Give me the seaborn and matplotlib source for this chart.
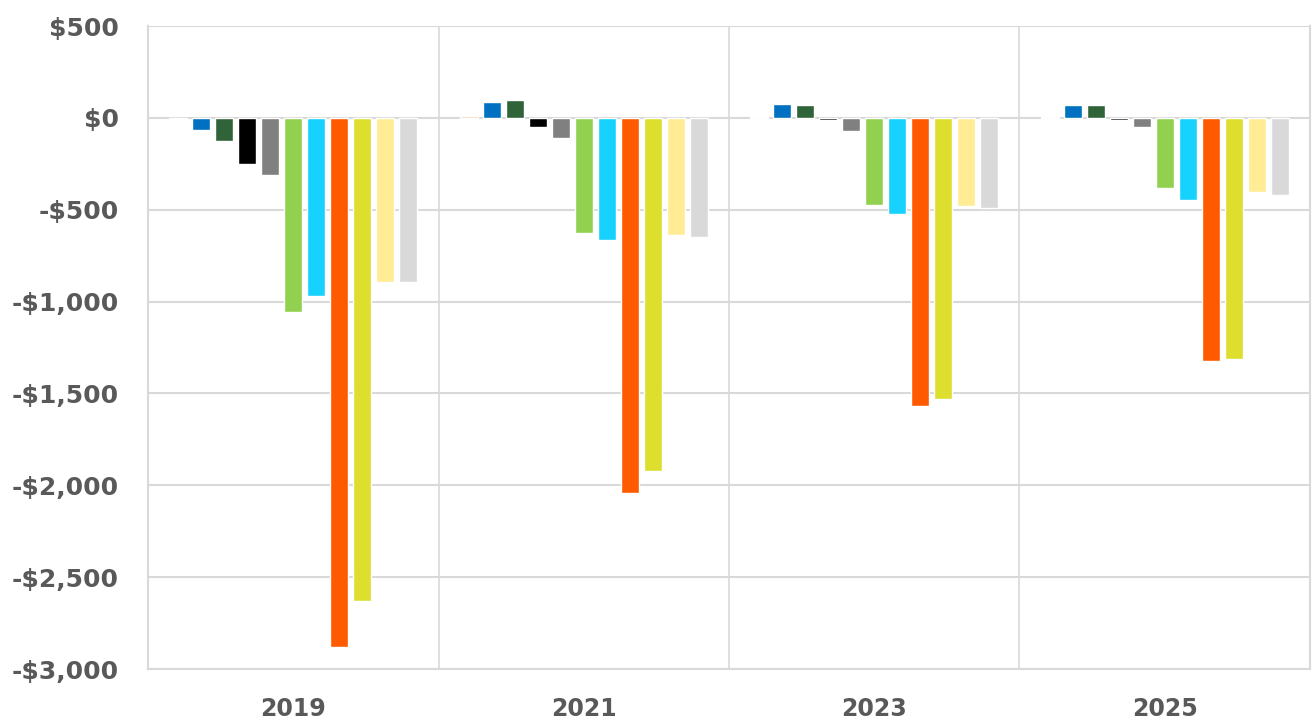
import matplotlib.pyplot as plt
import matplotlib.ticker as mticker
import pandas as pd
import numpy as np
import seaborn as sns

years = ['2019', '2021', '2023', '2025']
series = ['S1', 'S2', 'S3', 'S4', 'S5', 'S6', 'S7', 'S8', 'S9', 'S10', 'S11']
colors = ['#F8CBAD', '#0070C0', '#31633A', '#000000', '#808080', '#92D050',
          '#17D1FF', '#FF5A00', '#DEDE2F', '#FFEC94', '#D9D9D9']

# values per year, one entry per series
v2019 = [-8, -67, -127, -250, -309, -1058, -967, -2880, -2628, -891, -891]
v2021 = [8, 85, 95, -51, -109, -628, -667, -2043, -1920, -639, -650]
v2023 = [6, 75, 68, -10, -70, -473, -523, -1568, -1530, -481, -490]
v2025 = [6, 68, 68, -10, -50, -381, -446, -1323, -1312, -403, -419]

rows = []
for yr, vals in zip(years, [v2019, v2021, v2023, v2025]):
    for s, v in zip(series, vals):
        rows.append({'year': yr, 'series': s, 'value': v})
df = pd.DataFrame(rows)

sns.set_style('white')
plt.rcParams['font.family'] = ['DejaVu Sans']

fig = plt.figure(figsize=(13.16, 7.25), dpi=100)
ax = fig.add_axes([0.1125, 0.0772, 0.8829, 0.8869])

sns.barplot(data=df, x='year', y='value', hue='series', order=years,
            hue_order=series, palette=colors, width=0.87, saturation=1,
            legend=False, ax=ax, zorder=3)

# narrow the bars a bit so there is a gap between them
for p in ax.patches:
    w = p.get_width()
    p.set_x(p.get_x() + w * 0.11)
    p.set_width(w * 0.78)

ax.set_ylim(-3000, 500)
ax.set_xlim(-0.5, 3.5)
ax.yaxis.set_major_locator(mticker.MultipleLocator(500))
ax.yaxis.set_major_formatter(mticker.FuncFormatter(
    lambda v, _: ('-$' if v < 0 else '$') + f'{abs(v):,.0f}'))
ax.set_axisbelow(True)
ax.grid(axis='y', color='#D9D9D9', linewidth=1.5)
for xb in [0.5, 1.5, 2.5]:
    ax.axvline(xb, color='#D9D9D9', linewidth=1.2, zorder=0)

for side in ['left', 'right', 'bottom', 'top']:
    ax.spines[side].set_color('#D9D9D9')
    ax.spines[side].set_linewidth(1.5)
ax.spines['top'].set_visible(False)

ax.set_xlabel('')
ax.set_ylabel('')
ax.tick_params(axis='both', length=0, colors='#595959')
ax.tick_params(axis='y', pad=21)
ax.tick_params(axis='x', pad=20)
for t in ax.get_yticklabels():
    t.set_fontsize(18)
    t.set_fontweight('bold')
for t in ax.get_xticklabels():
    t.set_fontsize(17)
    t.set_fontweight('bold')

fig.savefig('out.png', dpi=100)
